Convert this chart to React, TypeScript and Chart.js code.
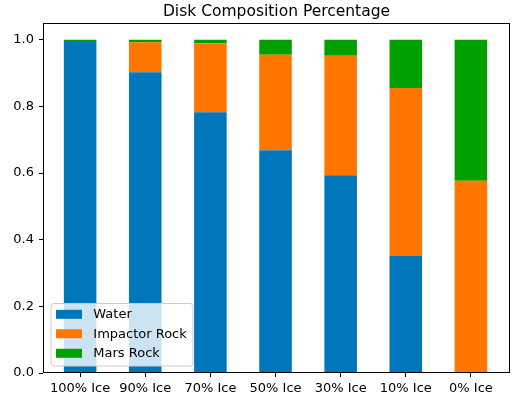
import React, { useEffect, useRef } from "react";
import { Chart, registerables } from "chart.js";

Chart.register(...registerables);

const categories = ["100% Ice", "90% Ice", "70% Ice", "50% Ice", "30% Ice", "10% Ice", "0% Ice"];
const water = [0.993, 0.902, 0.782, 0.668, 0.593, 0.351, 0.0];
const impactorRock = [0.0, 0.09, 0.207, 0.287, 0.359, 0.504, 0.577];
const marsRock = [0.007, 0.008, 0.011, 0.045, 0.048, 0.145, 0.423];
const yTicks = [0, 0.2, 0.4, 0.6, 0.8, 1.0];
const title = "Disk Composition Percentage";

const FONT = "'DejaVu Sans', sans-serif";

const toPoints = (arr: number[]) => arr.map((v, i) => ({ x: i, y: v }));

const framePlugin = {
  id: "frameAndLegend",
  afterDatasetsDraw(chart: any) {
    const { ctx, chartArea } = chart;
    const { left, right, top, bottom } = chartArea;
    ctx.save();
    // spines
    ctx.strokeStyle = "#000";
    ctx.lineWidth = 1;
    ctx.strokeRect(Math.round(left) + 0.5, Math.round(top) + 0.5, Math.round(right - left) - 1, Math.round(bottom - top) - 1);
    // title
    ctx.fillStyle = "#000";
    ctx.font = `15.5px ${FONT}`;
    ctx.textAlign = "center";
    ctx.textBaseline = "alphabetic";
    ctx.fillText(title, (left + right) / 2, 16.3);
    // legend
    const lx = 51, ly = 303.5, lw = 142, lh = 62.5, r = 3;
    ctx.beginPath();
    ctx.moveTo(lx + r, ly);
    ctx.lineTo(lx + lw - r, ly);
    ctx.quadraticCurveTo(lx + lw, ly, lx + lw, ly + r);
    ctx.lineTo(lx + lw, ly + lh - r);
    ctx.quadraticCurveTo(lx + lw, ly + lh, lx + lw - r, ly + lh);
    ctx.lineTo(lx + r, ly + lh);
    ctx.quadraticCurveTo(lx, ly + lh, lx, ly + lh - r);
    ctx.lineTo(lx, ly + r);
    ctx.quadraticCurveTo(lx, ly, lx + r, ly);
    ctx.closePath();
    ctx.fillStyle = "rgba(255,255,255,0.8)";
    ctx.fill();
    ctx.strokeStyle = "#cccccc";
    ctx.stroke();
    const rows = [314.3, 333.7, 353.3];
    ctx.font = `13px ${FONT}`;
    ctx.textAlign = "left";
    ctx.textBaseline = "middle";
    chart.data.datasets.forEach((ds: any, i: number) => {
      const cy = rows[i];
      ctx.fillStyle = ds.backgroundColor;
      ctx.fillRect(56, cy - 4.5, 26, 9);
      ctx.fillStyle = "#000";
      ctx.fillText(ds.label, 93.3, cy + 0.5);
    });
    ctx.restore();
  },
};

export default function App() {
  const canvasRef = useRef<HTMLCanvasElement | null>(null);
  useEffect(() => {
    if (!canvasRef.current) return;
    const chart = new Chart(canvasRef.current, {
      type: "bar",
      data: {
        datasets: [
          { label: "Water", data: toPoints(water), backgroundColor: "#0077BB", barPercentage: 0.5, categoryPercentage: 1 },
          { label: "Impactor Rock", data: toPoints(impactorRock), backgroundColor: "#FF7700", barPercentage: 0.5, categoryPercentage: 1 },
          { label: "Mars Rock", data: toPoints(marsRock), backgroundColor: "#00A000", barPercentage: 0.5, categoryPercentage: 1 },
        ] as any,
      },
      options: {
        responsive: false,
        animation: false,
        devicePixelRatio: 1,
        layout: { padding: { top: 23, right: 19, left: 0, bottom: 0 } },
        plugins: { legend: { display: false }, title: { display: false }, tooltip: { enabled: false } },
        scales: {
          x: {
            type: "linear",
            stacked: true,
            min: -0.57,
            max: 6.6,
            offset: false,
            afterBuildTicks: (scale: any) => {
              scale.ticks = categories.map((_, i) => ({ value: i }));
            },
            afterFit: (scale: any) => {
              scale.height = 24;
            },
            grid: { display: true, offset: false, drawOnChartArea: false, drawTicks: true, tickLength: 4, color: "#000" },
            border: { display: false },
            ticks: {
              autoSkip: false,
              maxRotation: 0,
              padding: 4,
              color: "#000",
              font: { family: FONT, size: 13 },
              callback: (v: any) => categories[v as number] ?? "",
            },
          },
          y: {
            type: "linear",
            stacked: true,
            min: 0,
            max: 1.05,
            afterBuildTicks: (scale: any) => {
              scale.ticks = yTicks.map((v) => ({ value: v }));
            },
            afterFit: (scale: any) => {
              scale.width = 43;
            },
            grid: { display: true, offset: false, drawOnChartArea: false, drawTicks: true, tickLength: 4, color: "#000" },
            border: { display: false },
            ticks: {
              padding: 5,
              color: "#000",
              font: { family: FONT, size: 13 },
              callback: (v: any) => Number(v).toFixed(1),
            },
          },
        },
      } as any,
      plugins: [framePlugin],
    });
    return () => chart.destroy();
  }, []);
  return (
    <div style={{ position: "absolute", left: 0, top: 0, width: 529, height: 397, background: "#fff" }}>
      <canvas ref={canvasRef} width={529} height={397} style={{ display: "block" }} />
    </div>
  );
}
